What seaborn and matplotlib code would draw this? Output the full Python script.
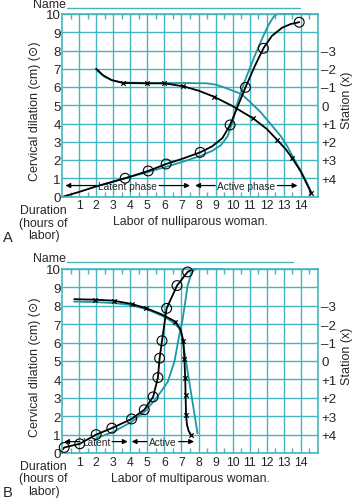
import numpy as np
import seaborn as sns
import matplotlib.pyplot as plt
from matplotlib.lines import Line2D

# ---- data read off the partograph (hours, cm) ----
# panel A: nulliparous
a_dil_x = [0.1, 1.0, 2.0, 3.7, 5.05, 6.1, 7.0, 8.1, 8.8, 9.4, 9.85, 10.3, 10.75, 11.3, 11.8, 12.3, 12.9, 13.4, 13.9]
a_dil_y = [0.0, 0.25, 0.55, 1.0, 1.4, 1.78, 2.05, 2.42, 2.75, 3.2, 3.92, 4.95, 5.98, 7.15, 8.12, 8.8, 9.25, 9.45, 9.55]
a_circ_x = [3.7, 5.05, 6.1, 8.1, 9.85, 10.75, 11.8, 13.9]
a_circ_y = [1.0, 1.4, 1.78, 2.42, 3.92, 5.98, 8.12, 9.55]
a_sta_x = [2.0, 2.4, 2.9, 3.6, 5.0, 6.0, 7.1, 8.0, 8.9, 10.0, 11.2, 12.0, 12.6, 13.1, 13.5, 14.0, 14.6]
a_sta_y = [7.0, 6.65, 6.38, 6.22, 6.2, 6.2, 6.04, 5.8, 5.47, 4.95, 4.28, 3.7, 3.11, 2.6, 2.09, 1.35, 0.2]
a_mark_x = [3.6, 5.0, 6.0, 7.1, 8.9, 11.2, 12.6, 13.5, 14.6]
a_mark_y = [6.22, 6.2, 6.2, 6.04, 5.47, 4.28, 3.11, 2.09, 0.2]
a_ref_dil_x = [2.0, 3.0, 4.0, 5.0, 6.0, 7.0, 8.1, 8.8, 9.3, 9.7, 10.0, 10.3, 10.7, 11.2, 11.7, 12.1, 12.4, 12.6, 14.6]
a_ref_dil_y = [0.55, 0.82, 1.08, 1.33, 1.6, 1.88, 2.22, 2.5, 2.8, 3.3, 4.1, 5.2, 6.3, 7.5, 8.6, 9.4, 9.85, 10.0, 10.0]
a_ref_sta_x = [2.0, 2.5, 3.0, 3.5, 5.0, 7.0, 8.5, 9.0, 9.5, 10.0, 10.5, 11.0, 11.65, 12.2, 12.8, 13.2, 13.6, 14.0, 14.3, 14.6]
a_ref_sta_y = [6.95, 6.55, 6.35, 6.25, 6.22, 6.22, 6.2, 6.13, 5.98, 5.8, 5.62, 5.2, 4.61, 4.0, 3.33, 2.75, 2.05, 1.4, 0.85, 0.25]
a_phases = [("Latent phase", 0.2, 7.5), ("Active phase", 7.8, 13.8)]

# panel B: multiparous
b_dil_x = [0.05, 0.13, 1.04, 2.0, 2.92, 4.08, 4.82, 5.34, 5.62, 5.72, 5.86, 6.13, 6.74, 7.36, 7.6, 7.85]
b_dil_y = [0.2, 0.3, 0.5, 1.0, 1.35, 1.85, 2.35, 3.05, 4.1, 5.15, 6.1, 7.86, 9.1, 9.84, 9.97, 10.0]
b_circ_x = [0.13, 1.04, 2.0, 2.92, 4.08, 4.82, 5.34, 5.62, 5.72, 5.86, 6.13, 6.74, 7.36]
b_circ_y = [0.3, 0.5, 1.0, 1.35, 1.85, 2.35, 3.05, 4.1, 5.15, 6.1, 7.86, 9.1, 9.84]
b_sta_x = [0.72, 1.96, 3.02, 4.08, 4.95, 5.8, 6.65, 6.95, 7.11, 7.17, 7.22, 7.24, 7.27, 7.32, 7.42, 7.55]
b_sta_y = [8.36, 8.33, 8.28, 8.1, 7.86, 7.55, 7.14, 6.7, 6.1, 5.1, 4.1, 3.15, 2.05, 1.55, 1.2, 1.0]
b_mark_x = [1.96, 3.02, 4.08, 4.95, 6.65, 7.11, 7.17, 7.22, 7.24, 7.27, 7.55]
b_mark_y = [8.33, 8.28, 8.1, 7.86, 7.14, 6.1, 5.1, 4.1, 3.15, 2.05, 1.0]
b_ref_dil_x = [2.0, 3.0, 4.08, 4.8, 5.43, 5.85, 6.2, 6.59, 6.88, 7.07, 7.36, 7.6, 7.8, 9.4]
b_ref_dil_y = [0.8, 1.15, 1.69, 2.2, 2.87, 3.4, 3.88, 4.98, 6.45, 7.27, 9.1, 9.8, 10.0, 10.0]
b_ref_sta_x = [0.71, 2.0, 3.0, 4.0, 5.0, 6.0, 6.5, 6.85, 7.0, 7.1, 7.94]
b_ref_sta_y = [8.23, 8.2, 8.15, 8.05, 7.8, 7.4, 7.1, 6.8, 6.45, 5.95, 1.07]
b_phases = [("Latent", 0.13, 3.85), ("Active", 4.08, 7.74)]

hours = list(range(1, 15))
dilation_ticks = list(range(0, 11))
station_pos = [8, 7, 6, 5, 4, 3, 2, 1]
station_labels = ["\u20133", "\u20132", "\u20131", "0", "+1", "+2", "+3", "+4"]

grid_col = "#45b5bf"
ref_col = "#1a98a4"

sns.set_style("white")
plt.rcParams["font.family"] = ["Liberation Sans", "DejaVu Sans"]

fig = plt.figure(figsize=(3.54, 5.02), dpi=100)


def px(x, y):
    return x / 354, 1 - y / 502


def draw_panel(rect, dil_x, dil_y, circ_x, circ_y, sta_x, sta_y, mark_x, mark_y,
               rdil_x, rdil_y, rsta_x, rsta_y, phases, phase_y, xlabel):
    ax = fig.add_axes(rect)
    ax.set_xlim(0, 15)
    ax.set_ylim(0, 10)
    ax.set_xticks(hours)
    ax.set_xticks(np.arange(0.5, 15, 1.0), minor=True)
    ax.set_yticks(dilation_ticks)
    ax.tick_params(axis="x", which="major", length=0, labelsize=8.8, pad=2)
    ax.tick_params(axis="x", which="minor", direction="in", top=True, bottom=True,
                   length=3.5, width=1, color=grid_col)
    ax.tick_params(axis="y", length=0, labelsize=9.6, pad=1)
    ax.grid(True, which="major", color=grid_col, lw=1.0)
    ax.set_axisbelow(True)
    for s in ax.spines.values():
        s.set_color(grid_col)
        s.set_linewidth(1.2)

    # reference (teal) curves
    sns.lineplot(x=rdil_x, y=rdil_y, sort=False, estimator=None, color=ref_col, lw=1.3, ax=ax, clip_on=False)
    sns.lineplot(x=rsta_x, y=rsta_y, sort=False, estimator=None, color=ref_col, lw=1.3, ax=ax, clip_on=False)
    # patient curves
    sns.lineplot(x=dil_x, y=dil_y, sort=False, estimator=None, color="black", lw=1.3, ax=ax, clip_on=False)
    sns.lineplot(x=sta_x, y=sta_y, sort=False, estimator=None, color="black", lw=1.3, ax=ax, clip_on=False)
    sns.scatterplot(x=circ_x, y=circ_y, marker="o", s=50, facecolor="none", edgecolor="black",
                    linewidth=0.8, ax=ax, zorder=5, clip_on=False)
    sns.scatterplot(x=mark_x, y=mark_y, marker="x", s=10, color="black", linewidth=0.9, ax=ax, zorder=5,
                    clip_on=False)
    ax.set_xlabel("")
    ax.set_ylabel("")

    # phase arrows with text gap
    r = fig.canvas.get_renderer()
    for label, x0, x1 in phases:
        t = ax.text((x0 + x1) / 2, phase_y, label, ha="center", va="center", fontsize=7.3)
        bb = t.get_window_extent(renderer=r).transformed(ax.transData.inverted())
        for a, b in [(bb.x0 - 0.12, x0), (bb.x1 + 0.12, x1)]:
            ax.annotate("", xy=(b, phase_y), xytext=(a, phase_y),
                        arrowprops=dict(arrowstyle="-|>", color="black", lw=0.9,
                                        mutation_scale=7, shrinkA=0, shrinkB=0))

    ax2 = ax.twinx()
    ax2.set_ylim(0, 10)
    ax2.set_yticks(station_pos, station_labels)
    ax2.tick_params(axis="y", length=0, labelsize=9.6, pad=2.5)
    for s in ax2.spines.values():
        s.set_visible(False)

    ax.text(-0.106, 0.47, "Cervical dilation (cm) (\u2299)", transform=ax.transAxes, rotation=90,
            ha="center", va="center", fontsize=9)
    ax.text(1.114, 0.53, "Station (x)", transform=ax.transAxes, rotation=90,
            ha="center", va="center", fontsize=9)
    ax.text(0.5, -0.136, xlabel, transform=ax.transAxes, ha="center", va="center", fontsize=8.8)
    return ax


draw_panel([62 / 354, 1 - 197.5 / 502, 256 / 354, 182.5 / 502],
           a_dil_x, a_dil_y, a_circ_x, a_circ_y, a_sta_x, a_sta_y, a_mark_x, a_mark_y,
           a_ref_dil_x, a_ref_dil_y, a_ref_sta_x, a_ref_sta_y, a_phases, 0.6,
           "Labor of nulliparous woman.")
draw_panel([62 / 354, 1 - 454 / 502, 256 / 354, 184 / 502],
           b_dil_x, b_dil_y, b_circ_x, b_circ_y, b_sta_x, b_sta_y, b_mark_x, b_mark_y,
           b_ref_dil_x, b_ref_dil_y, b_ref_sta_x, b_ref_sta_y, b_phases, 0.62,
           "Labor of multiparous woman.")

# header "Name" lines, duration note and panel letters
for name_y, line_end, dur_y, letter_y, letter in [(8.5, 300, 223.5, 238, "A"), (262.5, 293, 479.5, 493, "B")]:
    fig.text(*px(66, name_y), "Name", ha="right", va="baseline", fontsize=8.8)
    fig.add_artist(Line2D([67 / 354, line_end / 354], [1 - (name_y + 0.5) / 502] * 2, color=grid_col, lw=1.0))
    fig.text(*px(43.5, dur_y), "Duration\n(hours of\nlabor)", ha="center", va="center",
             fontsize=8.8, linespacing=1.05, multialignment="center")
    fig.text(*px(7.5, letter_y), letter, ha="center", va="center", fontsize=10.5)

fig.savefig("out.png", dpi=100)
